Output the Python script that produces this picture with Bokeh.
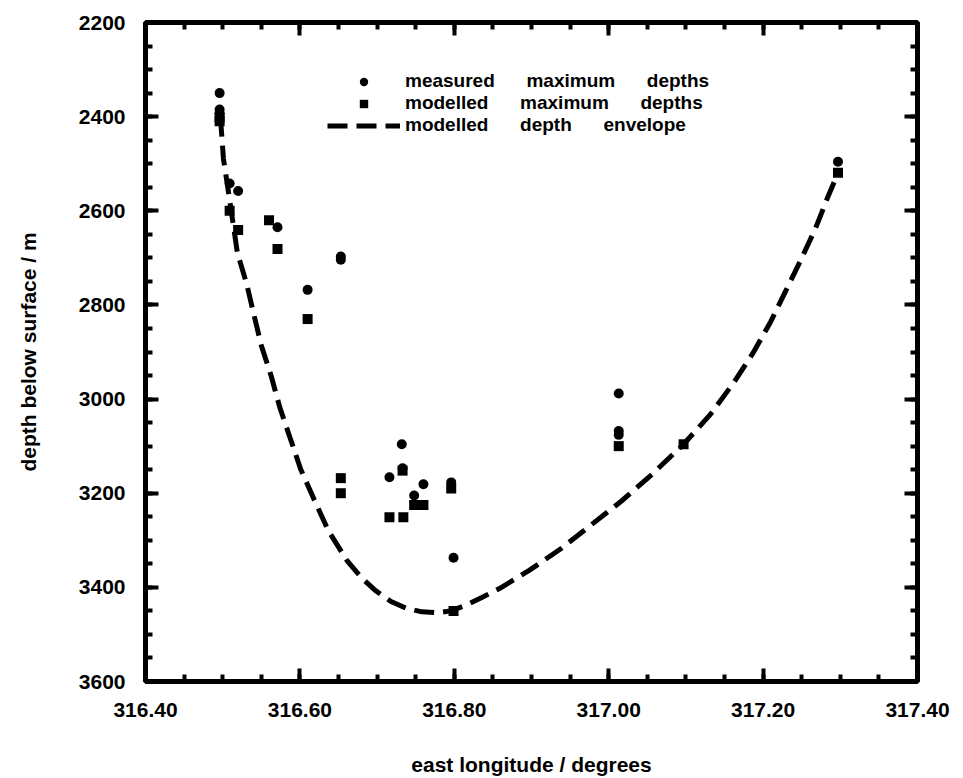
from bokeh.plotting import figure
from bokeh.models import (Range1d, LinearAxis, FixedTicker, NumeralTickFormatter,
                          CustomJSTickFormatter, Legend, LegendItem, ColumnDataSource)
from bokeh.embed import file_html
from bokeh.resources import INLINE

# measured maximum depths (circles)
measured_lon = [316.496, 316.496, 316.496, 316.509, 316.520, 316.571, 316.653, 316.653,
                316.610, 316.732, 316.733, 316.716, 316.760, 316.796, 316.748, 316.799,
                317.013, 317.013, 317.013, 317.297]
measured_depth = [2350, 2385, 2393, 2542, 2558, 2635, 2697, 2704,
                  2768, 3096, 3147, 3166, 3181, 3177, 3205, 3337,
                  2988, 3068, 3076, 2496]

# modelled maximum depths (squares)
modelled_lon = [316.496, 316.496, 316.509, 316.520, 316.560, 316.571, 316.610, 316.653,
                316.653, 316.733, 316.796, 316.748, 316.760, 316.716, 316.734, 316.799,
                317.013, 317.097, 317.297]
modelled_depth = [2402, 2410, 2600, 2641, 2620, 2681, 2830, 3168,
                  3200, 3152, 3190, 3225, 3225, 3251, 3251, 3450,
                  3100, 3096, 2519]

# modelled depth envelope (dashed curve)
envelope_lon = [316.497, 316.501, 316.508, 316.519, 316.531, 316.540, 316.550, 316.563,
                316.574, 316.587, 316.601, 316.618, 316.637, 316.661, 316.680, 316.698,
                316.718, 316.737, 316.758, 316.778, 316.795, 316.812, 316.835, 316.858,
                316.897, 316.938, 316.976, 317.017, 317.056, 317.097, 317.132, 317.162,
                317.187, 317.210, 317.230, 317.249, 317.268, 317.284, 317.297]
envelope_depth = [2400, 2490, 2566, 2689, 2755, 2818, 2886, 2952,
                  3018, 3081, 3149, 3212, 3280, 3343, 3380, 3407,
                  3430, 3444, 3452, 3454, 3450, 3440, 3422, 3403,
                  3364, 3318, 3269, 3216, 3160, 3096, 3032, 2965,
                  2902, 2835, 2768, 2704, 2637, 2570, 2520]

x_ticks = [316.40, 316.60, 316.80, 317.00, 317.20, 317.40]
y_ticks = [2200, 2400, 2600, 2800, 3000, 3200, 3400, 3600]
x_minor = [316.40 + 0.05 * i for i in range(21)]
y_minor = [2200 + 50 * i for i in range(29)]

FONT = "Liberation Sans"

p = figure(width=955, height=778,
           x_range=Range1d(316.40, 317.40), y_range=Range1d(3600, 2200),
           output_backend="svg", toolbar_location=None,
           min_border_left=145, min_border_right=38, min_border_top=22, min_border_bottom=95,
           x_axis_label="east longitude / degrees",
           y_axis_label="depth below surface / m")
p.xgrid.visible = False
p.ygrid.visible = False
p.outline_line_color = "black"
p.outline_line_width = 5
p.background_fill_color = "white"
p.border_fill_color = "white"


def style_axis(ax, ticks, minor, labels=True):
    ax.ticker = FixedTicker(ticks=ticks, minor_ticks=minor)
    ax.axis_line_color = "black"
    ax.axis_line_width = 5
    ax.major_tick_line_color = "black"
    ax.major_tick_line_width = 4
    ax.major_tick_in = 13
    ax.major_tick_out = 0
    ax.minor_tick_line_color = "black"
    ax.minor_tick_line_width = 4
    ax.minor_tick_in = 7
    ax.minor_tick_out = 0
    if labels:
        ax.major_label_text_font = FONT
        ax.major_label_text_font_style = "bold"
        ax.major_label_text_font_size = "21px"
        ax.major_label_text_color = "black"
        ax.axis_label_text_font = FONT
        ax.axis_label_text_font_style = "bold"
        ax.axis_label_text_font_size = "21px"
        ax.axis_label_text_color = "black"
    else:
        ax.formatter = CustomJSTickFormatter(code="return ''")
        ax.major_label_text_font_size = "1px"
        ax.major_label_standoff = 0


xa = p.xaxis[0]
style_axis(xa, x_ticks, x_minor)
xa.formatter = NumeralTickFormatter(format="0.00")
xa.major_label_standoff = 21
xa.axis_label_standoff = 33

ya = p.yaxis[0]
style_axis(ya, y_ticks, y_minor)
ya.formatter = NumeralTickFormatter(format="0")
ya.major_label_standoff = 20
ya.axis_label_standoff = 36

top = LinearAxis()
style_axis(top, x_ticks, x_minor, labels=False)
p.add_layout(top, "above")
right = LinearAxis()
style_axis(right, y_ticks, y_minor, labels=False)
p.add_layout(right, "right")

env_src = ColumnDataSource(dict(x=envelope_lon, y=envelope_depth))
mea_src = ColumnDataSource(dict(x=measured_lon, y=measured_depth))
mod_src = ColumnDataSource(dict(x=modelled_lon, y=modelled_depth))

r_env = p.line("x", "y", source=env_src, line_color="black", line_width=5,
               line_dash="20 9")
r_mod = p.scatter("x", "y", source=mod_src, marker="square", size=10,
                  fill_color="black", line_color="black", line_width=0)
r_mea = p.scatter("x", "y", source=mea_src, marker="circle", size=10,
                  fill_color="black", line_color="black", line_width=0)

legend = Legend(items=[
    LegendItem(label="measured      maximum      depths", renderers=[r_mea]),
    LegendItem(label="modelled      maximum      depths", renderers=[r_mod]),
    LegendItem(label="modelled      depth      envelope", renderers=[r_env]),
], location=(182, 545))
legend.glyph_width = 73
legend.glyph_height = 21
legend.label_height = 21
legend.spacing = 0
legend.padding = 0
legend.margin = 0
legend.label_standoff = 5
legend.border_line_color = None
legend.background_fill_alpha = 0
legend.label_text_font = FONT
legend.label_text_font_style = "bold"
legend.label_text_font_size = "19px"
legend.label_text_color = "black"
p.add_layout(legend, "center")

open("out.html", "w").write(file_html(p, INLINE))
